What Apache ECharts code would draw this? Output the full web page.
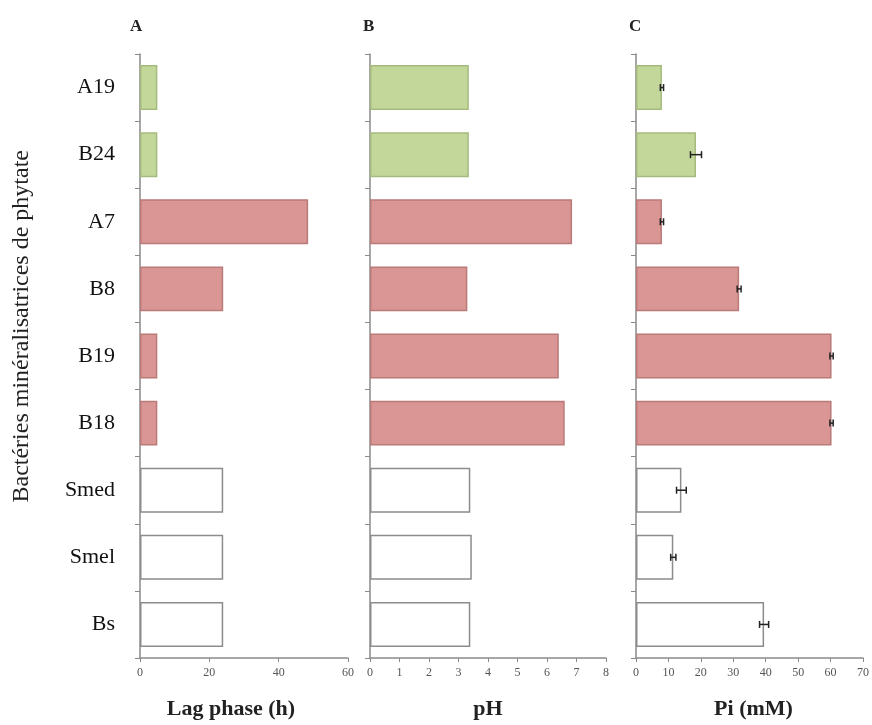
<!DOCTYPE html>
<html>
<head>
<meta charset="utf-8">
<script src="https://cdn.jsdelivr.net/npm/echarts@6/dist/echarts.min.js"></script>
<style>
html,body{margin:0;padding:0;background:#fff;}
#chart{width:872px;height:725px;}
</style>
</head>
<body>
<div id="chart"></div>
<script>
var categories = ['A19','B24','A7','B8','B19','B18','Smed','Smel','Bs'];
var groups = ['green','green','red','red','red','red','white','white','white'];
var lagPhase = [5, 5, 48.5, 24, 5, 5, 24, 24, 24];
var pHValues = [3.35, 3.35, 6.85, 3.3, 6.4, 6.6, 3.4, 3.45, 3.4];
var piValues = [8, 18.5, 8, 31.8, 60.3, 60.3, 14, 11.5, 39.5];
var piErrors = [0.5, 1.7, 0.5, 0.6, 0.5, 0.5, 1.5, 0.8, 1.4];
var panelTitles = ['A', 'B', 'C'];
var axisNames = ['Lag phase (h)', 'pH', 'Pi (mM)'];
var yTitle = 'Bactéries minéralisatrices de phytate';

var fills = {green: '#c4d79b', red: '#d99694', white: '#ffffff'};
var borders = {green: '#a5bb7e', red: '#b97a78', white: '#8c8c8c'};
var serif = '"Liberation Serif", "DejaVu Serif", serif';

function barData(vals) {
  return vals.map(function (v, i) {
    return {value: v, itemStyle: {color: fills[groups[i]], borderColor: borders[groups[i]], borderWidth: 1.5}};
  });
}

var grids = [
  {left: 140, width: 208, top: 54, bottom: 66},
  {left: 370, width: 236, top: 54, bottom: 66},
  {left: 636, width: 231, top: 54, bottom: 66}
];
var xMax = [60, 8, 70];
var xInt = [20, 1, 10];
var namePad = [[0, 26, 0, 0], [0, 0, 0, 0], [0, 0, 0, 8]];

var xAxes = [], yAxes = [];
for (var k = 0; k < 3; k++) {
  xAxes.push({
    type: 'value', gridIndex: k, min: 0, max: xMax[k], interval: xInt[k],
    name: axisNames[k], nameLocation: 'middle', nameGap: 40,
    nameTextStyle: {fontFamily: serif, fontSize: 22, fontWeight: 'bold', color: '#222', padding: namePad[k]},
    axisLine: {show: true, lineStyle: {color: '#8a8a8a', width: 1.5}},
    axisTick: {show: true, length: 4, lineStyle: {color: '#8a8a8a'}},
    axisLabel: {fontFamily: serif, fontSize: 12, color: '#555', margin: 9},
    splitLine: {show: false}
  });
  yAxes.push({
    type: 'category', gridIndex: k, data: categories, inverse: true,
    axisLine: {show: true, lineStyle: {color: '#8a8a8a', width: 1.5}},
    axisTick: {show: true, length: 5, lineStyle: {color: '#8a8a8a'}},
    axisLabel: {show: k === 0, fontFamily: serif, fontSize: 22, color: '#111', margin: 25},
    splitLine: {show: false}
  });
}

var errData = piValues.map(function (v, i) { return [v - piErrors[i], v + piErrors[i], i]; });

var option = {
  animation: false,
  backgroundColor: '#fff',
  title: [
    {text: panelTitles[0], left: 125, top: 13, textStyle: {fontFamily: serif, fontSize: 17, fontWeight: 'bold', color: '#222'}},
    {text: panelTitles[1], left: 358, top: 13, textStyle: {fontFamily: serif, fontSize: 17, fontWeight: 'bold', color: '#222'}},
    {text: panelTitles[2], left: 624, top: 13, textStyle: {fontFamily: serif, fontSize: 17, fontWeight: 'bold', color: '#222'}}
  ],
  graphic: [{
    type: 'text', left: 10, top: 150, rotation: Math.PI / 2,
    style: {text: yTitle, font: '24px ' + serif, fill: '#222'}
  }],
  grid: grids,
  xAxis: xAxes,
  yAxis: yAxes,
  series: [
    {type: 'bar', xAxisIndex: 0, yAxisIndex: 0, data: barData(lagPhase), barCategoryGap: '33%'},
    {type: 'bar', xAxisIndex: 1, yAxisIndex: 1, data: barData(pHValues), barCategoryGap: '33%'},
    {type: 'bar', xAxisIndex: 2, yAxisIndex: 2, data: barData(piValues), barCategoryGap: '33%'},
    {
      type: 'custom', xAxisIndex: 2, yAxisIndex: 2, data: errData,
      encode: {x: [0, 1], y: 2},
      renderItem: function (params, api) {
        var lo = api.coord([api.value(0), api.value(2)]);
        var hi = api.coord([api.value(1), api.value(2)]);
        var h = 3.5;
        var st = {stroke: '#222', lineWidth: 1.5};
        return {type: 'group', children: [
          {type: 'line', shape: {x1: lo[0], y1: lo[1], x2: hi[0], y2: hi[1]}, style: st},
          {type: 'line', shape: {x1: lo[0], y1: lo[1] - h, x2: lo[0], y2: lo[1] + h}, style: st},
          {type: 'line', shape: {x1: hi[0], y1: hi[1] - h, x2: hi[0], y2: hi[1] + h}, style: st}
        ]};
      },
      z: 10
    }
  ]
};

var chart = echarts.init(document.getElementById('chart'), null, {renderer: 'canvas'});
chart.setOption(option);
</script>
</body>
</html>
